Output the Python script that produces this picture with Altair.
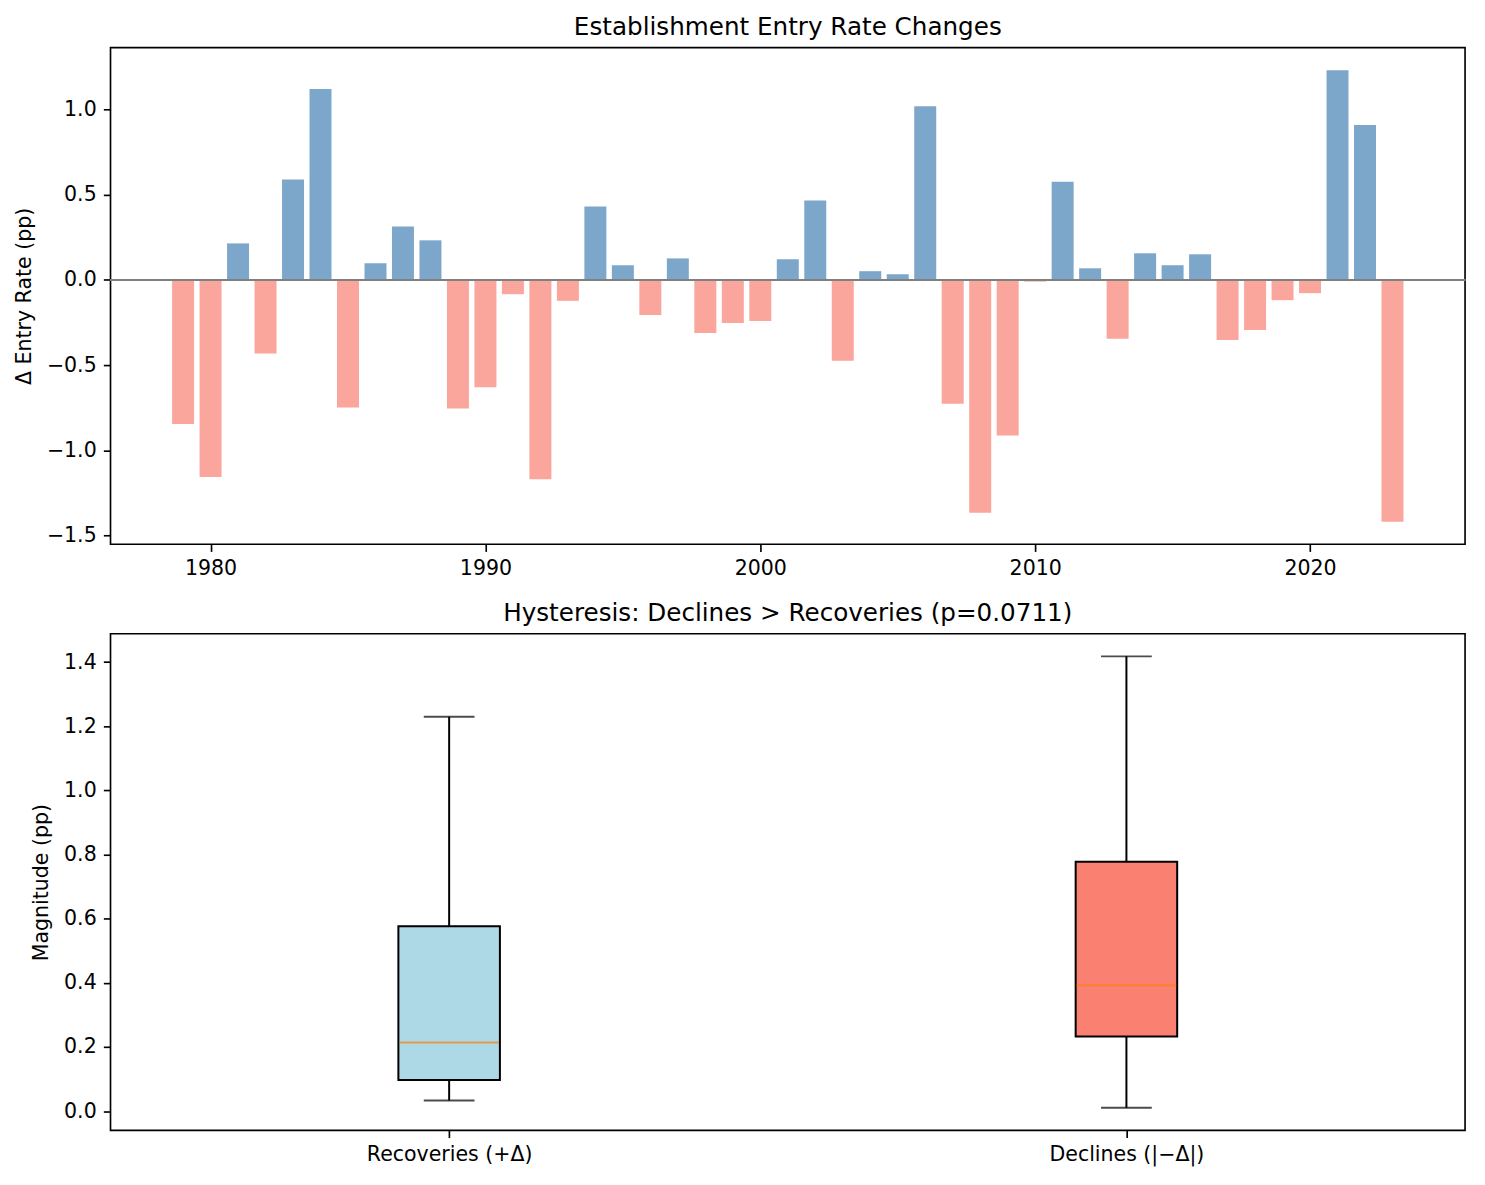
import altair as alt
import pandas as pd

# year-over-year change in establishment entry rate (percentage points)
years = list(range(1979, 2024))
delta = [
    -0.846, -1.156, 0.214, -0.432, 0.588, 1.119, -0.749, 0.097, 0.313, 0.232,
    -0.755, -0.630, -0.084, -1.169, -0.123, 0.430, 0.086, -0.206, 0.126, -0.311,
    -0.253, -0.241, 0.121, 0.465, -0.475, 0.051, 0.033, 1.019, -0.726, -1.366,
    -0.912, -0.010, 0.576, 0.068, -0.346, 0.156, 0.086, 0.150, -0.352, -0.294,
    -0.119, -0.078, 1.230, 0.909, -1.418,
]
year_ticks = [1980, 1990, 2000, 2010, 2020]
groups = ["Recoveries (+Δ)", "Declines (|−Δ|)"]
p_value = 0.0711

FONT = "DejaVu Sans"

changes = pd.DataFrame({"year": years, "delta": delta})
changes["sign"] = ["up" if d > 0 else "down" for d in delta]

mags = pd.DataFrame({
    "group": [groups[0] if d > 0 else groups[1] for d in delta],
    "mag": [abs(d) for d in delta],
})

# matplotlib-like 5% margins
x_lo, x_hi = min(years) - 0.4, max(years) + 0.4
x_pad = 0.05 * (x_hi - x_lo)
y_lo, y_hi = min(min(delta), 0), max(max(delta), 0)
y_pad = 0.05 * (y_hi - y_lo)
m_lo, m_hi = min(mags["mag"]), max(mags["mag"])
m_pad = 0.05 * (m_hi - m_lo)

bars = alt.Chart(changes).transform_calculate(
    x0="datum.year - 0.4", x1="datum.year + 0.4"
).mark_bar(opacity=0.7).encode(
    x=alt.X("x0:Q", title=None,
            scale=alt.Scale(domain=[x_lo - x_pad, x_hi + x_pad], nice=False, zero=False),
            axis=alt.Axis(values=year_ticks, format="d")),
    x2="x1:Q",
    y=alt.Y("delta:Q", title="Δ Entry Rate (pp)",
            scale=alt.Scale(domain=[y_lo - y_pad, y_hi + y_pad], nice=False),
            axis=alt.Axis(values=[-1.5, -1.0, -0.5, 0.0, 0.5, 1.0], format=".1f")),
    y2=alt.datum(0),
    color=alt.Color("sign:N", scale=alt.Scale(domain=["up", "down"], range=["steelblue", "salmon"]),
                    legend=None),
)

zero = alt.Chart(changes).mark_rule(color="gray", strokeWidth=1.65).encode(y=alt.datum(0))

top = alt.layer(bars, zero).properties(
    width=1361, height=499, title="Establishment Entry Rate Changes"
)

# box statistics (quartiles + 1.5 IQR whiskers), computed by Vega
stats = alt.Chart(mags).transform_joinaggregate(
    q1="q1(mag)", q3="q3(mag)", med="median(mag)", groupby=["group"]
).transform_filter(
    "datum.mag >= datum.q1 - 1.5 * (datum.q3 - datum.q1) && "
    "datum.mag <= datum.q3 + 1.5 * (datum.q3 - datum.q1)"
).transform_aggregate(
    lo="min(mag)", hi="max(mag)", groupby=["group", "q1", "q3", "med"]
)

x_enc = alt.X("group:N", title=None, sort=groups,
              scale=alt.Scale(type="point", padding=0.5, domain=groups),
              axis=alt.Axis(labelAngle=0))
y_scale = alt.Scale(domain=[m_lo - m_pad, m_hi + m_pad], nice=False)

whisker = stats.mark_rule(color="black", strokeWidth=2).encode(
    x=x_enc,
    y=alt.Y("lo:Q", title="Magnitude (pp)", scale=y_scale,
            axis=alt.Axis(values=[0.0, 0.2, 0.4, 0.6, 0.8, 1.0, 1.2, 1.4], format=".1f")),
    y2="hi:Q",
)
boxes = stats.mark_bar(size=102, stroke="black", strokeWidth=2, opacity=1).encode(
    x=x_enc,
    y="q1:Q",
    y2="q3:Q",
    color=alt.Color("group:N", scale=alt.Scale(domain=groups, range=["lightblue", "salmon"]),
                    legend=None),
)
median = stats.mark_tick(size=100, thickness=2, color="#ff7f0e", orient="horizontal").encode(
    x=x_enc, y="med:Q"
)
cap_lo = stats.mark_tick(size=51, thickness=2, color="black", orient="horizontal").encode(
    x=x_enc, y="lo:Q"
)
cap_hi = stats.mark_tick(size=51, thickness=2, color="black", orient="horizontal").encode(
    x=x_enc, y="hi:Q"
)

bottom = alt.layer(whisker, boxes, median, cap_lo, cap_hi).properties(
    width=1361, height=499,
    title=f"Hysteresis: Declines > Recoveries (p={p_value})",
)

chart = alt.vconcat(top, bottom, spacing=90, bounds="flush").resolve_scale(
    color="independent"
).properties(
    padding={"left": 5, "top": 3, "right": 10, "bottom": 5}
).configure_axis(
    labelFont=FONT, labelFontSize=20.6, labelColor="black",
    titleFont=FONT, titleFontSize=20.6, titleFontWeight="normal", titleColor="black",
    tickSize=7.2, tickWidth=1.65, tickColor="black",
    labelPadding=7.2, titlePadding=12,
    grid=False, domain=False,
).configure_view(
    stroke="black", strokeWidth=1.65
).configure_title(
    font=FONT, fontSize=24.75, fontWeight="normal", color="black",
    offset=8, baseline="alphabetic",
)

chart.save("out.html", embed_options={"renderer": "svg", "actions": False})
